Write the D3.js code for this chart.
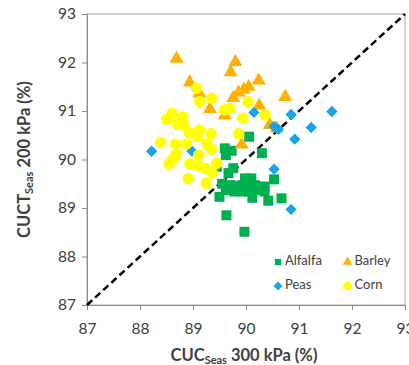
<!DOCTYPE html>
<html>
<head>
<meta charset="utf-8">
<script src="https://cdn.jsdelivr.net/npm/d3@7"></script>
<style>
  body { margin: 0; background: #fff; }
</style>
</head>
<body>
<div id="chart"></div>
<script>
const W = 409, H = 365;
const margin = {top: 14, left: 87, right: 4, bottom: 60};

const xTicks = [87, 88, 89, 90, 91, 92, 93];
const yTicks = [87, 88, 89, 90, 91, 92, 93];

// [CUC 300 kPa, CUCT 200 kPa]
const alfalfa = [
  [90.06, 90.47], [89.60, 90.23], [89.73, 90.18], [89.62, 90.09], [90.30, 90.13],
  [89.76, 89.82], [89.67, 89.72], [89.45, 89.85], [90.53, 89.59], [89.98, 89.61],
  [90.10, 89.61], [89.55, 89.50], [89.72, 89.47], [89.82, 89.44], [89.92, 89.47],
  [90.04, 89.44], [90.17, 89.47], [90.26, 89.44], [90.35, 89.44], [89.62, 89.37],
  [89.78, 89.34], [89.94, 89.34], [90.06, 89.34], [90.22, 89.37], [90.35, 89.34],
  [89.50, 89.23], [90.12, 89.21], [90.42, 89.15], [90.67, 89.20], [89.63, 88.85],
  [89.97, 88.51]
];
const barley = [
  [88.69, 92.08], [89.80, 92.01], [89.71, 91.80], [88.94, 91.59], [89.12, 91.36],
  [90.24, 91.63], [90.05, 91.50], [89.96, 91.44], [89.86, 91.38], [89.76, 91.27],
  [89.32, 91.04], [89.60, 90.91], [90.25, 91.11], [90.74, 91.29], [90.45, 90.71],
  [90.58, 90.64], [89.92, 90.31]
];
const peas = [
  [88.22, 90.17], [88.98, 90.17], [90.15, 90.97], [90.53, 90.68], [90.61, 90.62],
  [90.85, 90.93], [90.92, 90.42], [91.23, 90.66], [91.62, 90.99], [90.53, 89.80],
  [90.85, 88.97]
];
const corn = [
  [89.07, 91.47], [89.13, 91.19], [89.36, 91.26], [89.59, 91.02], [89.70, 91.05],
  [90.04, 91.19], [89.94, 90.85], [90.36, 90.92], [89.86, 90.53], [88.61, 90.95],
  [88.50, 90.83], [88.81, 90.88], [88.70, 90.73], [88.82, 90.71], [88.93, 90.55],
  [89.12, 90.61], [89.09, 90.47], [89.34, 90.53], [88.39, 90.35], [88.67, 90.32],
  [88.88, 90.32], [89.26, 90.32], [89.35, 90.21], [89.11, 90.09], [88.69, 90.11],
  [88.63, 90.02], [88.55, 89.91], [88.94, 89.91], [89.10, 89.87], [89.23, 89.82],
  [89.45, 89.92], [89.36, 89.73], [88.91, 89.61], [89.25, 89.51]
];

const series = [
  {name: "Alfalfa", data: alfalfa, color: "#00b050", shape: d3.symbolSquare, size: 100, rot: 0},
  {name: "Barley", data: barley, color: "#ffb000", shape: d3.symbolTriangle, size: 85, rot: 0},
  {name: "Peas", data: peas, color: "#1aa3e8", shape: d3.symbolSquare, size: 64, rot: 45},
  {name: "Corn", data: corn, color: "#ffff00", shape: d3.symbolCircle, size: 105, rot: 0}
];

const font = "Lato, 'Open Sans', sans-serif";

const svg = d3.select("#chart").append("svg")
  .attr("width", W).attr("height", H)
  .attr("font-family", font);

const x = d3.scaleLinear().domain([87, 93]).range([margin.left, W - margin.right]);
const y = d3.scaleLinear().domain([87, 93]).range([305, margin.top]);

// plot frame
svg.append("rect")
  .attr("x", x(87)).attr("y", y(93))
  .attr("width", x(93) - x(87)).attr("height", y(87) - y(93))
  .attr("fill", "none").attr("stroke", "#a6a6a6").attr("stroke-width", 1);

const xAxis = svg.append("g")
  .attr("transform", `translate(0,${y(87)})`)
  .call(d3.axisBottom(x).tickValues(xTicks).tickSize(5).tickFormat(d3.format("d")));
const yAxis = svg.append("g")
  .attr("transform", `translate(${x(87)},0)`)
  .call(d3.axisLeft(y).tickValues(yTicks).tickSize(5).tickFormat(d3.format("d")));

[xAxis, yAxis].forEach(a => {
  a.select(".domain").attr("stroke", "#8c8c8c");
  a.selectAll(".tick line").attr("stroke", "#8c8c8c");
  a.selectAll(".tick text")
    .attr("font-family", font)
    .attr("font-size", 15.5)
    .attr("fill", "#404040");
});
xAxis.selectAll(".tick text").attr("dy", "1.35em");
yAxis.selectAll(".tick text").attr("x", -11);

// 1:1 line
svg.append("line")
  .attr("x1", x(87)).attr("y1", y(87))
  .attr("x2", x(93)).attr("y2", y(93))
  .attr("stroke", "#000").attr("stroke-width", 2.5)
  .attr("stroke-dasharray", "7,4");

// points
series.forEach(s => {
  svg.append("g").selectAll("path")
    .data(s.data)
    .enter()
    .append("path")
    .attr("transform", d => `translate(${x(d[0])},${y(d[1])}) rotate(${s.rot})`)
    .attr("d", d3.symbol().type(s.shape).size(s.size))
    .attr("fill", s.color);
});

// legend
const legendPos = [[278, 262], [347.5, 262], [278, 286], [347.5, 286]];
series.forEach((s, i) => {
  const g = svg.append("g").attr("transform", `translate(${legendPos[i][0]},${legendPos[i][1]})`);
  g.append("path")
    .attr("transform", `rotate(${s.rot})`)
    .attr("d", d3.symbol().type(s.shape).size(s.shape === d3.symbolCircle ? 60 : 40))
    .attr("fill", s.color);
  g.append("text")
    .attr("x", 7).attr("y", 0)
    .attr("dominant-baseline", "middle")
    .attr("font-size", 13)
    .attr("fill", "#404040")
    .text(s.name);
});

// axis titles
const xt = svg.append("text")
  .attr("x", (x(87) + x(93)) / 2 - 2)
  .attr("y", 361)
  .attr("text-anchor", "middle")
  .attr("font-weight", "bold")
  .attr("font-size", 16.5)
  .attr("fill", "#404040");
xt.append("tspan").text("CUC");
xt.append("tspan").attr("font-size", 11).attr("dy", 3).text("Seas");
xt.append("tspan").attr("dy", -3).text(" 300 kPa (%)");

const yt = svg.append("text")
  .attr("transform", `translate(30,${(y(87) + y(93)) / 2}) rotate(-90)`)
  .attr("text-anchor", "middle")
  .attr("font-weight", "bold")
  .attr("font-size", 16.5)
  .attr("fill", "#404040");
yt.append("tspan").text("CUCT");
yt.append("tspan").attr("font-size", 11).attr("dy", 3).text("Seas");
yt.append("tspan").attr("dy", -3).text(" 200 kPa (%)");
</script>
</body>
</html>
